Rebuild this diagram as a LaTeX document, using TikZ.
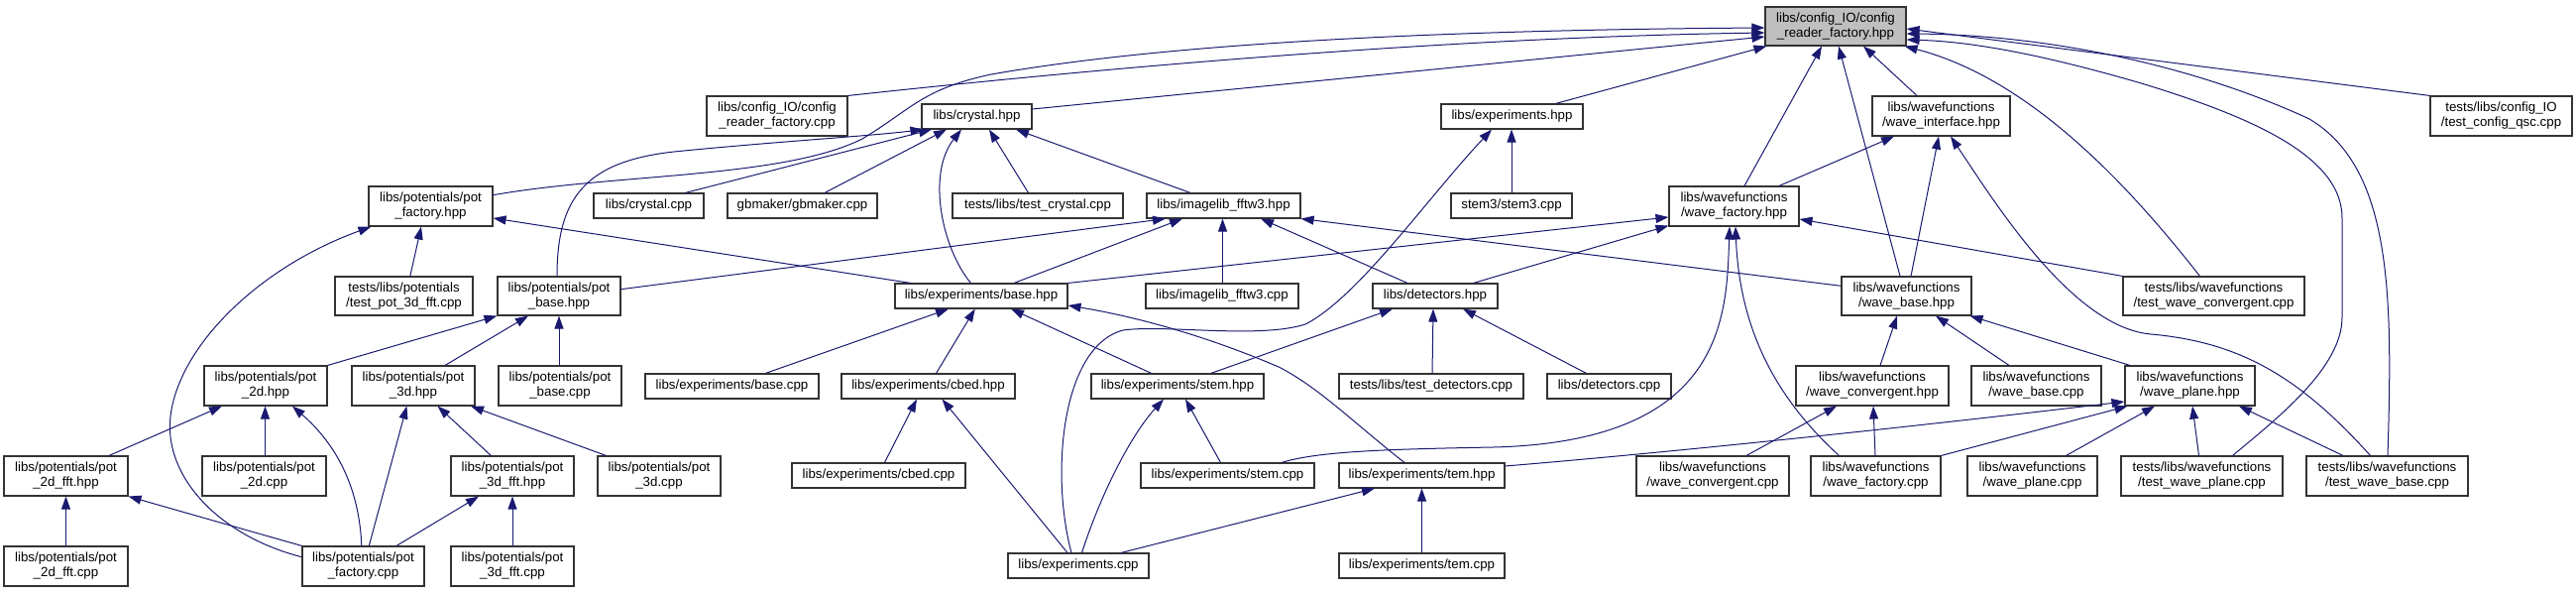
\documentclass[tikz,border=0pt]{standalone}
\usepackage{fontspec}
\setmainfont{Liberation Sans}
\usetikzlibrary{arrows.meta}
\definecolor{edgeblue}{HTML}{191970}
\definecolor{mainfill}{HTML}{BFBFBF}
\begin{document}
\begin{tikzpicture}[x=1pt,y=-1pt,
  box/.style={draw=black!80, line width=1.1pt, fill=white, align=center, inner sep=0pt, font=\fontsize{13.3}{15}\selectfont},
  bx/.style 2 args={box, minimum width=#1pt, minimum height=#2pt},
  edge/.style={draw=edgeblue, line width=1pt, -{Triangle[length=13pt,width=9pt]}}]
\useasboundingbox (0,0) rectangle (2599,597);
% rank 0
\node[bx={142}{39}, fill=mainfill] (main) at (1852,26.5) {libs/config\_IO/config\\\_reader\_factory.hpp};
% rank 1
\node[bx={142}{40}] (cfgcpp) at (784,117) {libs/config\_IO/config\\\_reader\_factory.cpp};
\node[bx={111}{25}] (cryhpp) at (985.5,117.5) {libs/crystal.hpp};
\node[bx={143}{25}] (exphpp) at (1525.5,117.5) {libs/experiments.hpp};
\node[bx={139}{40}] (waveint) at (1958.5,117) {libs/wavefunctions\\/wave\_interface.hpp};
\node[bx={143}{40}] (testcfg) at (2523.5,117) {tests/libs/config\_IO\\/test\_config\_qsc.cpp};
% rank 2
\node[bx={125}{40}] (potfachpp) at (434.5,208) {libs/potentials/pot\\\_factory.hpp};
\node[bx={111}{25}] (crycpp) at (654.5,207.5) {libs/crystal.cpp};
\node[bx={151}{25}] (gbmaker) at (809.5,207.5) {gbmaker/gbmaker.cpp};
\node[bx={172}{25}] (testcry) at (1047,207.5) {tests/libs/test\_crystal.cpp};
\node[bx={155}{25}] (imghpp) at (1234.5,207.5) {libs/imagelib\_fftw3.hpp};
\node[bx={122}{25}] (stem3) at (1525,207.5) {stem3/stem3.cpp};
\node[bx={131}{40}] (wavefachpp) at (1749.5,208) {libs/wavefunctions\\/wave\_factory.hpp};
% rank 3
\node[bx={139}{39}] (testpot) at (407.5,298.5) {tests/libs/potentials\\/test\_pot\_3d\_fft.cpp};
\node[bx={124}{39}] (potbasehpp) at (564,298.5) {libs/potentials/pot\\\_base.hpp};
\node[bx={174}{25}] (basehpp) at (990,298.5) {libs/experiments/base.hpp};
\node[bx={154}{25}] (imgcpp) at (1233,298.5) {libs/imagelib\_fftw3.cpp};
\node[bx={126}{25}] (dethpp) at (1448,298.5) {libs/detectors.hpp};
\node[bx={131}{39}] (wavebasehpp) at (1923.5,298.5) {libs/wavefunctions\\/wave\_base.hpp};
\node[bx={183}{39}] (testwconv) at (2233.5,298.5) {tests/libs/wavefunctions\\/test\_wave\_convergent.cpp};
% rank 4
\node[bx={124}{40}] (pot2dhpp) at (268,389) {libs/potentials/pot\\\_2d.hpp};
\node[bx={124}{40}] (pot3dhpp) at (417,389) {libs/potentials/pot\\\_3d.hpp};
\node[bx={124}{40}] (potbasecpp) at (565,389) {libs/potentials/pot\\\_base.cpp};
\node[bx={175}{25}] (expbasecpp) at (738.5,389.5) {libs/experiments/base.cpp};
\node[bx={175}{25}] (cbedhpp) at (936.5,389.5) {libs/experiments/cbed.hpp};
\node[bx={174}{25}] (stemhpp) at (1188,389.5) {libs/experiments/stem.hpp};
\node[bx={186}{25}] (testdet) at (1444,389.5) {tests/libs/test\_detectors.cpp};
\node[bx={125}{25}] (detcpp) at (1623.5,389.5) {libs/detectors.cpp};
\node[bx={154}{40}] (wconvhpp) at (1889,389) {libs/wavefunctions\\/wave\_convergent.hpp};
\node[bx={131}{40}] (wavebasecpp) at (2054.5,389) {libs/wavefunctions\\/wave\_base.cpp};
\node[bx={131}{40}] (waveplanehpp) at (2209.5,389) {libs/wavefunctions\\/wave\_plane.hpp};
% rank 5
\node[bx={125}{40}] (pot2dffthpp) at (66.5,480) {libs/potentials/pot\\\_2d\_fft.hpp};
\node[bx={125}{40}] (pot2dcpp) at (266.5,480) {libs/potentials/pot\\\_2d.cpp};
\node[bx={124}{40}] (pot3dffthpp) at (517,480) {libs/potentials/pot\\\_3d\_fft.hpp};
\node[bx={124}{40}] (pot3dcpp) at (665,480) {libs/potentials/pot\\\_3d.cpp};
\node[bx={175}{25}] (cbedcpp) at (886.5,479.5) {libs/experiments/cbed.cpp};
\node[bx={175}{25}] (stemcpp) at (1238.5,479.5) {libs/experiments/stem.cpp};
\node[bx={167}{25}] (temhpp) at (1434.5,479.5) {libs/experiments/tem.hpp};
\node[bx={154}{40}] (wconvcpp) at (1728,480) {libs/wavefunctions\\/wave\_convergent.cpp};
\node[bx={131}{40}] (wavefaccpp) at (1892.5,480) {libs/wavefunctions\\/wave\_factory.cpp};
\node[bx={131}{40}] (waveplanecpp) at (2050.5,480) {libs/wavefunctions\\/wave\_plane.cpp};
\node[bx={163}{40}] (testwplane) at (2221.5,480) {tests/libs/wavefunctions\\/test\_wave\_plane.cpp};
\node[bx={163}{40}] (testwbase) at (2408.5,480) {tests/libs/wavefunctions\\/test\_wave\_base.cpp};
% rank 6
\node[bx={125}{40}] (pot2dfftcpp) at (66.5,571) {libs/potentials/pot\\\_2d\_fft.cpp};
\node[bx={123}{40}] (potfaccpp) at (366.5,571) {libs/potentials/pot\\\_factory.cpp};
\node[bx={124}{40}] (pot3dfftcpp) at (517,571) {libs/potentials/pot\\\_3d\_fft.cpp};
\node[bx={142}{25}] (expcpp) at (1088,570.5) {libs/experiments.cpp};
\node[bx={167}{25}] (temcpp) at (1434.5,570.5) {libs/experiments/tem.cpp};

% edges into main
\draw[edge] (cfgcpp.north east) .. controls (1100,70) and (1450,38) .. ([yshift=-6.5pt]main.west);
\draw[edge] ([yshift=7.5pt]cryhpp.east) -- ([yshift=-10.5pt]main.west);
\draw[edge] ([yshift=11.3pt]potfachpp.east) .. controls (620,175) and (790,180) .. (870,140) .. controls (920,110) and (930,90) .. (1000,75) .. controls (1200,40) and (1500,30) .. ([yshift=-1.5pt]main.west);
\draw[edge] ([xshift=44pt]exphpp.north) -- ([xshift=2pt]main.south west);
\draw[edge] ([xshift=10.5pt]wavefachpp.north) -- ([xshift=-14pt]main.south);
\draw[edge] ([xshift=-6.5pt]wavebasehpp.north) -- ([xshift=3pt]main.south);
\draw[edge] ([xshift=-24.5pt]waveint.north) -- ([xshift=28pt]main.south);
\draw[edge] (testcfg.north west) -- ([yshift=-2.5pt]main.east);
\draw[edge] ([xshift=0.5pt]testwbase.north) .. controls (2414,300) and (2414,170) .. (2330,120) .. controls (2200,60) and (2050,35) .. ([yshift=-7.5pt]main.east);
\draw[edge] ([xshift=31pt]testwplane.north) .. controls (2300,420) and (2363,370) .. (2363,320) -- (2363,220) .. controls (2363,160) and (2280,120) .. (2157,83) .. controls (2060,55) and (1990,42) .. ([yshift=-13.5pt]main.east);
\draw[edge] ([xshift=-14pt]testwconv.north) .. controls (2150,190) and (2050,80) .. ([xshift=-2pt]main.south east);
% crystal.hpp
\draw[edge] ([xshift=37pt]crycpp.north) -- ([xshift=-45.5pt]cryhpp.south);
\draw[edge] ([xshift=-2pt]potbasehpp.north) .. controls (562,200) and (590,163) .. (680,153) .. controls (780,143) and (880,137) .. ([xshift=2pt]cryhpp.south west);
\draw[edge] ([xshift=22.5pt]gbmaker.north) -- ([xshift=-30.5pt]cryhpp.south);
\draw[edge] ([xshift=-10.5pt]basehpp.north) .. controls (950,250) and (935,175) .. ([xshift=-15.5pt]cryhpp.south);
\draw[edge] ([xshift=-9.5pt]testcry.north) -- ([xshift=12.5pt]cryhpp.south);
\draw[edge] ([xshift=-33.5pt]imghpp.north) -- ([xshift=39.5pt]cryhpp.south);
% experiments.hpp
\draw[edge] ([xshift=-7pt]expcpp.north) .. controls (1060,480) and (1070,350) .. (1133,333) .. controls (1175,327) and (1270,342) .. (1317,327) .. controls (1370,300) and (1440,200) .. ([xshift=-20.5pt]exphpp.south);
\draw[edge] (stem3.north) -- (stem3.north |- exphpp.south);
% wave_interface
\draw[edge] ([xshift=45.5pt]wavefachpp.north) -- ([xshift=-47.5pt]waveint.south);
\draw[edge] ([xshift=4.5pt]wavebasehpp.north) -- ([xshift=-2.5pt]waveint.south);
\draw[edge] ([xshift=-17pt]testwbase.north) .. controls (2320,380) and (2260,345) .. (2170,337) .. controls (2090,330) and (2010,200) .. ([xshift=9.5pt]waveint.south);
% pot_factory.hpp
\draw[edge] ([xshift=6.3pt]testpot.north) -- ([xshift=-9.5pt]potfachpp.south);
\draw[edge] ([yshift=9.3pt]potfaccpp.west) .. controls (220,540) and (165,480) .. (172,420) .. controls (180,350) and (260,270) .. ([xshift=3pt]potfachpp.south west);
\draw[edge] ([xshift=16.5pt]basehpp.north west) -- ([yshift=-12pt]potfachpp.east);
% imagelib_fftw3.hpp
\draw[edge] ([yshift=6.8pt]potbasehpp.east) -- ([xshift=-58.5pt]imghpp.south);
\draw[edge] ([xshift=33pt]basehpp.north) -- ([xshift=-41.5pt]imghpp.south);
\draw[edge] ([xshift=0.5pt]imgcpp.north) -- ([xshift=-1pt]imghpp.south);
\draw[edge] ([xshift=-28pt]dethpp.north) -- ([xshift=37.5pt]imghpp.south);
\draw[edge] ([yshift=10.2pt]wavebasehpp.west) -- (imghpp.south east);
% wave_factory.hpp
\draw[edge] (basehpp.north east) -- ([yshift=-11pt]wavefachpp.west);
\draw[edge] ([xshift=38.6pt]dethpp.north) -- ([yshift=1pt]wavefachpp.south west);
\draw[edge] ([xshift=54.5pt]stemcpp.north) .. controls (1330,455) and (1400,453) .. (1507,451) .. controls (1740,445) and (1742,320) .. ([xshift=-4.5pt]wavefachpp.south);
\draw[edge] ([xshift=-37pt]wavefaccpp.north) .. controls (1790,400) and (1755,330) .. ([xshift=1.5pt]wavefachpp.south);
\draw[edge] (testwconv.north west) -- ([yshift=-13pt]wavefachpp.east);
% pot_base.hpp
\draw[edge] (pot2dhpp.north east) -- (potbasehpp.south west);
\draw[edge] ([xshift=32pt]pot3dhpp.north) -- ([xshift=-31pt]potbasehpp.south);
\draw[edge] ([xshift=-1pt]potbasecpp.north) -- (potbasehpp.south);
% experiments/base.hpp
\draw[edge] ([xshift=33.8pt]expbasecpp.north) -- ([xshift=-33pt]basehpp.south);
\draw[edge] ([xshift=8pt]cbedhpp.north) -- ([xshift=-6.3pt]basehpp.south);
\draw[edge] ([xshift=-26.3pt]stemhpp.north) -- ([xshift=30pt]basehpp.south);
\draw[edge] ([xshift=-17.5pt]temhpp.north) .. controls (1370,430) and (1330,390) .. (1290,370) .. controls (1220,340) and (1150,320) .. ([yshift=-9.5pt]basehpp.east);
% detectors.hpp
\draw[edge] ([xshift=33.7pt]stemhpp.north) -- ([xshift=-43pt]dethpp.south);
\draw[edge] ([xshift=1pt]testdet.north) -- ([xshift=-2pt]dethpp.south);
\draw[edge] ([xshift=-23pt]detcpp.north) -- ([xshift=28pt]dethpp.south);
% wave_base.hpp
\draw[edge] ([xshift=8pt]wconvhpp.north) -- ([xshift=-9.5pt]wavebasehpp.south);
\draw[edge] ([xshift=-27.5pt]wavebasecpp.north) -- ([xshift=29.5pt]wavebasehpp.south);
\draw[edge] ([xshift=-60.5pt]waveplanehpp.north) -- ([xshift=-2pt]wavebasehpp.south east);
% pot_2d.hpp
\draw[edge] ([xshift=43.5pt]pot2dffthpp.north) -- ([xshift=-44pt]pot2dhpp.south);
\draw[edge] ([xshift=1pt]pot2dcpp.north) -- ([xshift=-0.5pt]pot2dhpp.south);
\draw[edge] ([xshift=-1.7pt]potfaccpp.north) .. controls (362,480) and (330,440) .. ([xshift=27pt]pot2dhpp.south);
% pot_3d.hpp
\draw[edge] ([xshift=5.8pt]potfaccpp.north) -- ([xshift=-6.6pt]pot3dhpp.south);
\draw[edge] ([xshift=-21.6pt]pot3dffthpp.north) -- ([xshift=24.5pt]pot3dhpp.south);
\draw[edge] ([xshift=-53.5pt]pot3dcpp.north) -- ([xshift=58pt]pot3dhpp.south);
% pot_2d_fft.hpp, pot_3d_fft.hpp
\draw[edge] (pot2dfftcpp.north) -- (pot2dffthpp.south);
\draw[edge] (potfaccpp.north west) -- (pot2dffthpp.south east);
\draw[edge] ([xshift=33.5pt]potfaccpp.north) -- ([xshift=-34pt]pot3dffthpp.south);
\draw[edge] (pot3dfftcpp.north) -- (pot3dffthpp.south);
% cbed.hpp, stem.hpp, tem.hpp
\draw[edge] ([xshift=6pt]cbedcpp.north) -- ([xshift=-11.5pt]cbedhpp.south);
\draw[edge] ([xshift=-11pt]expcpp.north) -- ([xshift=14pt]cbedhpp.south);
\draw[edge] ([xshift=3.5pt]expcpp.north) .. controls (1110,500) and (1140,440) .. ([xshift=-14pt]stemhpp.south);
\draw[edge] ([xshift=-7pt]stemcpp.north) -- ([xshift=8pt]stemhpp.south);
\draw[edge] ([xshift=43pt]expcpp.north) -- ([xshift=-47.5pt]temhpp.south);
\draw[edge] (temcpp.north) -- (temhpp.south);
% wave_convergent.hpp
\draw[edge] ([xshift=34pt]wconvcpp.north) -- ([xshift=-36pt]wconvhpp.south);
\draw[edge] ([xshift=-0.5pt]wavefaccpp.north) -- ([xshift=1pt]wconvhpp.south);
% wave_plane.hpp
\draw[edge] ([yshift=9.5pt]temhpp.east) .. controls (1700,455) and (1950,428) .. ([yshift=-16pt]waveplanehpp.west);
\draw[edge] (wavefaccpp.north east) -- ([xshift=3pt]waveplanehpp.south west);
\draw[edge] ([xshift=34pt]waveplanecpp.north) -- ([xshift=-35.5pt]waveplanehpp.south);
\draw[edge] ([xshift=-3pt]testwplane.north) -- ([xshift=2.5pt]waveplanehpp.south);
\draw[edge] ([xshift=-44.5pt]testwbase.north) -- ([xshift=49.5pt]waveplanehpp.south);
\end{tikzpicture}
\end{document}
